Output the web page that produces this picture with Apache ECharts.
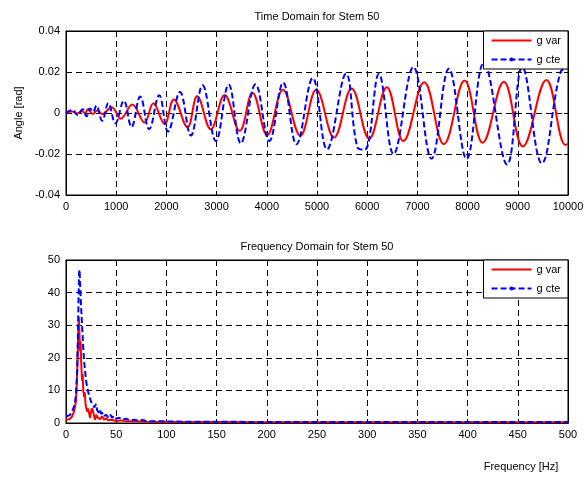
<!DOCTYPE html>
<html><head><meta charset="utf-8">
<script src="https://cdn.jsdelivr.net/npm/echarts@6/dist/echarts.min.js"></script>
<style>html,body{margin:0;padding:0;background:#fff}#c{width:588px;height:480px}</style>
</head><body><div id="c"></div>
<script>
// ---- Time domain (extrema) ----
const tRed = [0,120,220,320,380,440,530,630,720,910,1090,1320,1564,1740,1962,2148,2420,2613,2885,3160,3460,3715,4007,4320,4668,4985,5340,5690,6040,6390,6720,7135,7527,7940,8300,8722,9100,9570,9950,10000];
const vRed = [0,0.0007,-0.0002,0.0008,0,0.002,-0.0005,0.0012,-0.0005,0.0028,-0.0028,0.0042,-0.0046,0.0048,-0.0054,0.0066,-0.007,0.0082,-0.0079,0.0088,-0.0087,0.0097,-0.0108,0.0113,-0.011,0.0113,-0.012,0.012,-0.0125,0.0126,-0.0137,0.015,-0.0152,0.0158,-0.0145,0.0152,-0.0163,0.0161,-0.0156,-0.015];
const tBlue = [0,130,230,330,410,480,540,605,720,843,983,1152,1305,1478,1656,1856,2032,2270,2487,2720,2985,3240,3482,3775,4050,4326,4590,4915,5200,5578,5800,5950,6232,6524,6920,7281,7626,7980,8323,8788,9088,9476,9850,10000];
const vBlue = [0,0.0015,-0.001,0.0018,-0.0016,0.0022,0.0005,0.0036,-0.0038,0.0048,-0.005,0.006,-0.0068,0.008,-0.0079,0.0087,-0.009,0.0102,-0.011,0.0135,-0.0136,0.0139,-0.0148,0.014,-0.0136,0.0148,-0.0153,0.017,-0.0177,0.0191,-0.0165,-0.018,0.019,-0.02,0.0224,-0.0223,0.0216,-0.0224,0.0245,-0.0251,0.0225,-0.0245,0.02,0.022];

// ---- Frequency domain ----
const fBlue = [0,2,4,6,8,9,10,11,12,12.5,13,13.5,14,15,16,17,18,19,20,21,22,23,24,25,26,27,28,29,30,31,32,33,34,35,36,37,38,40,42,44,46,48,50,53,56,60,64,68,72,76,80,90,100,120,150,200,250,300,350,400,450,500];
const aBlue = [2,2.2,2.5,3.5,5,6.5,9,15,28,38,46,47,43,36,30,24,19,16,13,11,9.7,8.5,7.5,6.5,6.8,5.5,4.8,4.5,5.8,4,3.5,3,3.8,2.8,2.5,3.2,2.2,2.5,1.8,2.6,1.6,2.2,1.3,1.6,1,1.3,0.8,1,0.7,0.9,0.6,0.5,0.5,0.4,0.4,0.3,0.3,0.3,0.3,0.3,0.3,0.3];
const fRed = [0,2,4,6,8,9,10,11,12,12.7,13.3,14,14.6,15.2,16,16.6,17.2,18,18.6,19.4,20,21,22,23,24,25,26,27,28,29,30,32,34,36,38,40,42,45,50,55,60,70,80,100,150,200,300,400,500];
const aRed = [1,1.1,1.3,2,3.5,5,7,14,25,32.5,28,22,25,18,13,15,10,8,9.5,6,5,3.5,4.5,3,1.5,3.5,4.5,3.5,2,1,2.5,1.5,1.2,2,1,1.5,0.8,1,0.6,0.8,0.5,0.5,0.4,0.3,0.3,0.2,0.2,0.2,0.2];

const names = ['g var', 'g cte'];
const titles = ['Time Domain for Stem 50', 'Frequency Domain for Stem 50'];
const yName = 'Angle [rad]';
const xName = 'Frequency [Hz]';

const FONT = 'Liberation Sans, Arial, sans-serif';
const zip = (a, b) => a.map((x, i) => [x, b[i]]);
const fmt = v => String(v);

function mainAxis(grid, min, max, interval, extra) {
  return Object.assign({
    type: 'value', gridIndex: grid, min, max, interval,
    axisLine: {show: true, onZero: false, lineStyle: {color: '#000', width: 1}},
    axisTick: {show: true, inside: true, length: 4, lineStyle: {color: '#000'}},
    axisLabel: {color: '#000', fontSize: 11, fontFamily: FONT, margin: 6, formatter: fmt},
    splitLine: {show: true, lineStyle: {color: '#000', type: [6, 4], width: 1}}
  }, extra || {});
}
function mirrorAxis(grid, min, max, interval, pos) {
  return {
    type: 'value', gridIndex: grid, min, max, interval, position: pos,
    axisLine: {show: true, onZero: false, lineStyle: {color: '#000', width: 1}},
    axisTick: {show: true, inside: true, length: 4, lineStyle: {color: '#000'}},
    axisLabel: {show: false}, splitLine: {show: false}
  };
}
function legend(top) {
  return {
    orient: 'vertical', right: 20, top: top, itemWidth: 40, itemHeight: 5, itemGap: 8,
    padding: [4, 7, 4, 7], backgroundColor: '#fff', borderColor: '#000', borderWidth: 1, borderRadius: 0,
    textStyle: {fontSize: 11, fontFamily: FONT, color: '#000'}, selectedMode: false,
    data: [{name: names[0], itemStyle: {opacity: 0}}, names[1]]
  };
}
const redStyle = {color: '#ff0000', width: 2};
const blueStyle = {color: '#0000ff', width: 2, type: [6, 3]};

const option = {
  animation: false,
  backgroundColor: '#fff',
  grid: [
    {left: 66, right: 20, top: 31, height: 164, show: true, borderColor: '#000', borderWidth: 1},
    {left: 66, right: 20, top: 260, height: 163, show: true, borderColor: '#000', borderWidth: 1}
  ],
  xAxis: [
    mainAxis(0, 0, 10000, 1000),
    mainAxis(1, 0, 500, 50),
    mirrorAxis(0, 0, 10000, 1000, 'top'),
    mirrorAxis(1, 0, 500, 50, 'top')
  ],
  yAxis: [
    mainAxis(0, -0.04, 0.04, 0.02, {name: yName, nameLocation: 'middle', nameGap: 41, nameRotate: 90,
      nameTextStyle: {color: '#000', fontSize: 11, fontFamily: FONT}}),
    mainAxis(1, 0, 50, 10),
    mirrorAxis(0, -0.04, 0.04, 0.02, 'right'),
    mirrorAxis(1, 0, 50, 10, 'right')
  ],
  legend: [legend(31), legend(260)],
  graphic: [
    {type: 'text', x: 317, y: 17, style: {text: titles[0], fill: '#000', font: '11px ' + FONT, textAlign: 'center', textVerticalAlign: 'middle'}},
    {type: 'text', x: 317, y: 247, style: {text: titles[1], fill: '#000', font: '11px ' + FONT, textAlign: 'center', textVerticalAlign: 'middle'}},
    {type: 'text', x: 521, y: 467, style: {text: xName, fill: '#000', font: '11px ' + FONT, textAlign: 'center', textVerticalAlign: 'middle'}}
  ],
  series: [
    {type: 'line', name: names[0], xAxisIndex: 0, yAxisIndex: 0, data: zip(tRed, vRed), smooth: 0.4,
      symbol: 'none', lineStyle: redStyle, itemStyle: {color: '#ff0000'}, z: 2, silent: true},
    {type: 'line', name: names[1], xAxisIndex: 0, yAxisIndex: 0, data: zip(tBlue, vBlue), smooth: 0.4,
      symbol: 'circle', symbolSize: 4, showSymbol: false, lineStyle: blueStyle, itemStyle: {color: '#0000ff'}, z: 3, silent: true},
    {type: 'line', name: names[0], xAxisIndex: 1, yAxisIndex: 1, data: zip(fRed, aRed),
      symbol: 'none', lineStyle: redStyle, itemStyle: {color: '#ff0000'}, z: 2, silent: true},
    {type: 'line', name: names[1], xAxisIndex: 1, yAxisIndex: 1, data: zip(fBlue, aBlue),
      symbol: 'circle', symbolSize: 4, showSymbol: false, lineStyle: blueStyle, itemStyle: {color: '#0000ff'}, z: 3, silent: true}
  ]
};
const chart = echarts.init(document.getElementById('c'), null, {renderer: 'canvas'});
chart.setOption(option);
</script>
</body></html>
